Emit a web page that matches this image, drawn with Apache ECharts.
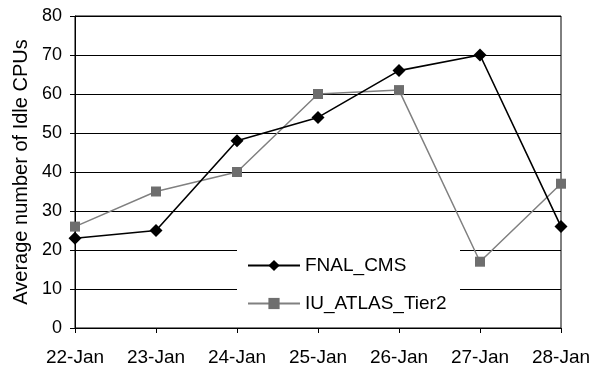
<!DOCTYPE html>
<html><head><meta charset="utf-8">
<script src="https://cdn.jsdelivr.net/npm/echarts@6/dist/echarts.min.js"></script>
<style>html,body{margin:0;padding:0;background:#fff}#c{width:596px;height:368px}</style>
</head><body><div id="c"></div>
<script>
var categories = ['22-Jan','23-Jan','24-Jan','25-Jan','26-Jan','27-Jan','28-Jan'];
var fnalCms = [23, 25, 48, 54, 66, 70, 26];
var iuAtlas = [26, 35, 40, 60, 61, 17, 37];
var yTitle = 'Average number of Idle CPUs';
var font = 'Liberation Sans, Arial, sans-serif';
var chart = echarts.init(document.getElementById('c'));
chart.setOption({
  animation: false,
  backgroundColor: '#fff',
  grid: {left: 75, right: 35, top: 16, bottom: 40, show: true, borderColor: '#000', borderWidth: 1},
  graphic: [{type: 'rect', left: 237, top: 246, z: 1,
    shape: {width: 223, height: 79}, style: {fill: '#fff'}}],
  legend: {
    orient: 'vertical', left: 247, top: 256, padding: 0,
    itemWidth: 52, itemHeight: 14, itemGap: 19,
    textStyle: {fontFamily: font, fontSize: 19, lineHeight: 19, color: '#000'},
    data: ['FNAL_CMS', 'IU_ATLAS_Tier2']
  },
  xAxis: {
    type: 'category', data: categories, boundaryGap: false,
    axisLine: {lineStyle: {color: '#000', width: 1}},
    axisTick: {show: true, length: 5, lineStyle: {color: '#000'}},
    axisLabel: {fontFamily: font, fontSize: 19, color: '#000', margin: 20},
    splitLine: {show: false}
  },
  yAxis: {
    type: 'value', min: 0, max: 80, interval: 10,
    name: yTitle, nameLocation: 'middle', nameGap: 44,
    nameTextStyle: {fontFamily: font, fontSize: 20, color: '#000'},
    axisLine: {show: true, lineStyle: {color: '#000'}},
    axisTick: {show: true, length: 5, lineStyle: {color: '#000'}},
    axisLabel: {fontFamily: font, fontSize: 18, color: '#000', margin: 13},
    splitLine: {show: true, lineStyle: {color: '#000', width: 1}}
  },
  series: [
    {name: 'FNAL_CMS', type: 'line', data: fnalCms, symbol: 'diamond', symbolSize: 13,
     lineStyle: {color: '#000', width: 1.6}, itemStyle: {color: '#000'}, z: 3},
    {name: 'IU_ATLAS_Tier2', type: 'line', data: iuAtlas, symbol: 'rect', symbolSize: 10,
     lineStyle: {color: '#808080', width: 1.5}, itemStyle: {color: '#6e6e6e'}, z: 2}
  ]
});
</script></body></html>
